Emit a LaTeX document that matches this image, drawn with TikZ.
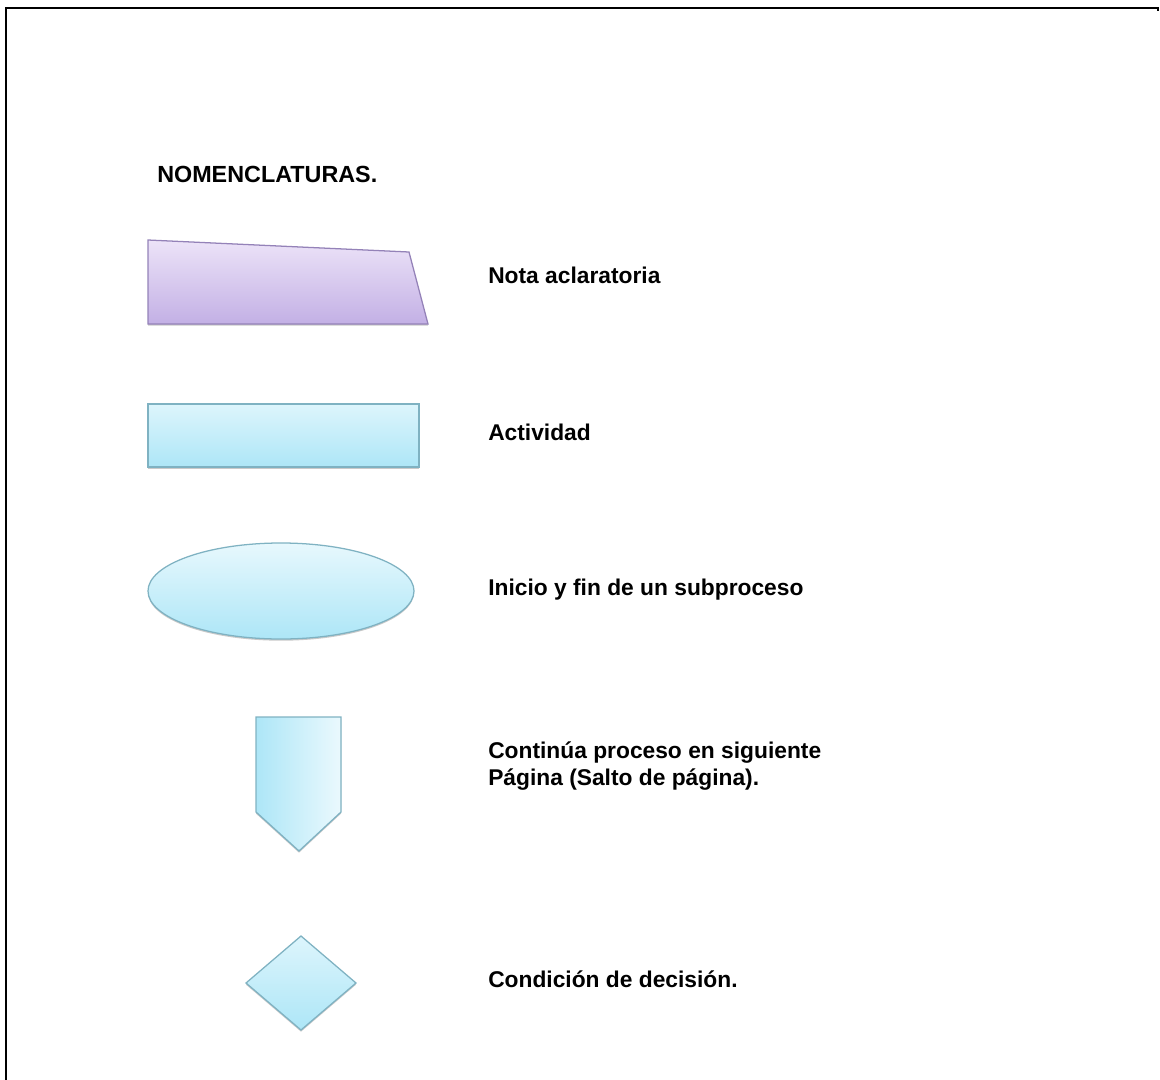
\documentclass[tikz,border=0pt]{standalone}
\usepackage{fontspec}
\setmainfont{Liberation Sans}
\usetikzlibrary{shadows}

\definecolor{notaarriba}{HTML}{ECE3F8}
\definecolor{notaabajo}{HTML}{C3B0E5}
\definecolor{notaborde}{HTML}{9482B8}
\definecolor{celestearriba}{HTML}{DDF5FC}
\definecolor{celesteabajo}{HTML}{ADE6F7}
\definecolor{celesteborde}{HTML}{7FB2C2}

\tikzset{
  etiqueta/.style={anchor=base west, inner sep=0pt, font=\bfseries\fontsize{16.2}{19.2}\selectfont, align=left},
  sombra/.style={drop shadow={shadow xshift=0pt, shadow yshift=-1.2pt, opacity=0.35, fill=black!60}},
  notaforma/.style={draw=notaborde, line width=0.9pt, top color=notaarriba, bottom color=notaabajo, sombra},
  celesteforma/.style={draw=celesteborde, line width=0.9pt, top color=celestearriba, bottom color=celesteabajo, sombra},
}

\begin{document}
\begin{tikzpicture}[x=0.025cm, y=-0.025cm]
	\useasboundingbox (0,0) rectangle (1160,1080);
	\draw[line width=1.4pt] (6,1080) -- (6,8) -- (1158,8) -- (1158,11);
	\node[etiqueta, font=\bfseries\fontsize{16.6}{19.2}\selectfont] (titulo) at (157,182) {NOMENCLATURAS.};
	% nota aclaratoria
	\coordinate (N1) at (148,240);
	\coordinate (N2) at (409,252);
	\coordinate (N3) at (428,324);
	\coordinate (N4) at (148,324);
	\draw[notaforma] (N1) -- (N2) -- (N3) -- (N4) -- cycle;
	\node[etiqueta] (nota) at (488,283) {Nota aclaratoria};
	% actividad
	\coordinate (A1) at (148,404);
	\coordinate (A2) at (419,467);
	\draw[celesteforma] (A1) rectangle (A2);
	\node[etiqueta] (actividad) at (488,440) {Actividad};
	% inicio y fin
	\coordinate (E) at (281,591);
	\draw[celesteforma, top color=celestearriba!70!white] (E) ellipse [x radius=133, y radius=48];
	\node[etiqueta] (inicio) at (488,595) {Inicio y fin de un subproceso};
	% salto de pagina
	\coordinate (P1) at (256,717);
	\coordinate (P2) at (341,717);
	\coordinate (P3) at (341,812);
	\coordinate (P4) at (299,851);
	\coordinate (P5) at (256,812);
	\draw[celesteforma, left color=celesteabajo, right color=celestearriba!60!white] (P1) -- (P2) -- (P3) -- (P4) -- (P5) -- cycle;
	\node[etiqueta] (salto) at (488,785) {Continúa proceso en siguiente\\Página (Salto de página).};
	% decision
	\coordinate (D1) at (301,936);
	\coordinate (D2) at (356,983);
	\coordinate (D3) at (301,1030);
	\coordinate (D4) at (246,983);
	\draw[celesteforma] (D1) -- (D2) -- (D3) -- (D4) -- cycle;
	\node[etiqueta] (decision) at (488,987) {Condición de decisión.};
\end{tikzpicture}
\end{document}
